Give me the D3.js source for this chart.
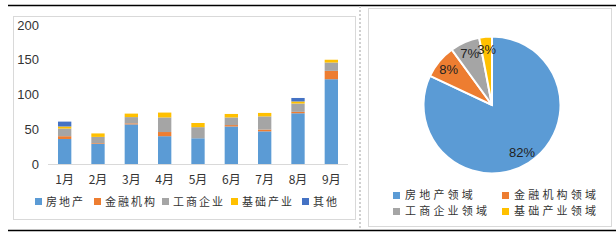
<!DOCTYPE html>
<html>
<head>
<meta charset="utf-8">
<script src="https://cdn.jsdelivr.net/npm/d3@7"></script>
<style>
  body { margin: 0; background: #fff; }
  svg { display: block; }
</style>
</head>
<body>
<script>
// bar chart data (monthly, stacked)
var months = ["1月", "2月", "3月", "4月", "5月", "6月", "7月", "8月", "9月"];
var barSeries = ["房地产", "金融机构", "工商企业", "基础产业", "其他"];
var realEstate = [36, 29, 57, 40, 37, 54, 47, 73, 122];
var financial = [4, 1, 1.5, 6, 0, 2, 2.5, 2, 12];
var industrial = [11, 9, 9, 21, 16, 11, 19, 12, 12];
var infrastructure = [3, 5, 5, 7, 6, 5, 5, 3, 4];
var others = [7, 0, 0, 0, 0, 0, 0, 5, 0];
var yTicks = [0, 50, 100, 150, 200];

// pie data
var pieLabels = ["房地产领域", "金融机构领域", "工商企业领域", "基础产业领域"];
var pieValues = [82, 8, 7, 3];

var colors = ["#5b9bd5", "#ed7d31", "#a5a5a5", "#ffc000", "#4472c4"];
var cjk = "'Noto Sans CJK SC', sans-serif";

var svg = d3.select("body").append("svg")
  .attr("width", 616)
  .attr("height", 240);

// page rules and panel frames
svg.append("line").attr("x1", 8).attr("x2", 616).attr("y1", 5.5).attr("y2", 5.5)
  .attr("stroke", "#000").attr("stroke-width", 1.5);
svg.append("line").attr("x1", 8).attr("x2", 616).attr("y1", 230.5).attr("y2", 230.5)
  .attr("stroke", "#000").attr("stroke-width", 1.5);
svg.append("line").attr("x1", 360).attr("x2", 360).attr("y1", 6).attr("y2", 229)
  .attr("stroke", "#d0d0d0").attr("stroke-width", 2).attr("stroke-dasharray", "2,2");
svg.append("rect").attr("x", 13.5).attr("y", 16.5).attr("width", 342).attr("height", 203)
  .attr("fill", "none").attr("stroke", "#d9d9d9");
svg.append("rect").attr("x", 368.5).attr("y", 8.5).attr("width", 243).attr("height", 218)
  .attr("fill", "none").attr("stroke", "#d9d9d9");

// ---- stacked bar chart ----
var x = d3.scaleBand().domain(months).range([48, 348]).paddingInner(0.6).paddingOuter(0.3);
var y = d3.scaleLinear().domain([0, 200]).range([164, 25]);

var rows = months.map(function(m, i) {
  return { month: m, "房地产": realEstate[i], "金融机构": financial[i], "工商企业": industrial[i],
           "基础产业": infrastructure[i], "其他": others[i] };
});
var stacked = d3.stack().keys(barSeries)(rows);

var yAxis = d3.axisLeft(y).tickValues(yTicks).tickSize(0).tickPadding(0);
svg.append("g")
  .attr("class", "y axis")
  .attr("transform", "translate(39,0)")
  .call(yAxis)
  .call(function(g) { g.select(".domain").remove(); })
  .selectAll("text")
    .attr("font-family", "Arial, 'Liberation Sans', sans-serif")
    .attr("font-size", 13)
    .attr("fill", "#333");

svg.selectAll("g.series")
  .data(stacked)
  .enter().append("g")
    .attr("class", "series")
    .attr("fill", function(d, i) { return colors[i]; })
  .selectAll("rect")
  .data(function(d) { return d; })
  .enter().append("rect")
    .attr("x", function(d) { return x(d.data.month); })
    .attr("width", x.bandwidth())
    .attr("y", function(d) { return y(d[1]); })
    .attr("height", function(d) { return y(d[0]) - y(d[1]); });

var xAxis = d3.axisBottom(x).tickSize(0).tickPadding(11);
svg.append("g")
  .attr("class", "x axis")
  .attr("transform", "translate(0,164)")
  .call(xAxis)
  .call(function(g) { g.select(".domain").attr("stroke", "#d9d9d9").attr("d", "M48,0.5H348"); })
  .selectAll("text")
    .attr("font-family", cjk)
    .attr("font-size", 12)
    .attr("fill", "#333");

// bar legend
var barLegendX = [35, 94, 162, 231, 302];
var barLegend = svg.append("g").attr("class", "legend");
barSeries.forEach(function(name, i) {
  barLegend.append("rect")
    .attr("x", barLegendX[i]).attr("y", 198)
    .attr("width", 7).attr("height", 7)
    .attr("fill", colors[i]);
  barLegend.append("text")
    .attr("x", barLegendX[i] + 11).attr("y", 206)
    .attr("font-family", cjk).attr("font-size", 11)
    .attr("letter-spacing", 2)
    .attr("fill", "#333")
    .text(name);
});

// ---- pie chart ----
var cx = 492, cy = 105, r = 68.5;
var pie = d3.pie().sort(null).value(function(d) { return d; });
var arc = d3.arc().innerRadius(0).outerRadius(r);
var labelArc = d3.arc().innerRadius(r * 0.82).outerRadius(r * 0.82);

var pg = svg.append("g").attr("transform", "translate(" + cx + "," + cy + ")");
var slices = pie(pieValues);
pg.selectAll("path")
  .data(slices)
  .enter().append("path")
    .attr("d", arc)
    .attr("fill", function(d, i) { return colors[i]; })
    .attr("stroke", "#fff")
    .attr("stroke-width", 2);

pg.selectAll("text")
  .data(slices)
  .enter().append("text")
    .attr("transform", function(d) { return "translate(" + labelArc.centroid(d) + ")"; })
    .attr("text-anchor", "middle")
    .attr("dy", "0.35em")
    .attr("font-family", "Arial, 'Liberation Sans', sans-serif")
    .attr("font-size", 13)
    .attr("fill", "#222")
    .text(function(d) { return d.value + "%"; });

// pie legend
var pieLegendPos = [[396, 195], [505, 195], [396, 211], [505, 211]];
var pl = svg.append("g").attr("class", "legend");
pieLabels.forEach(function(name, i) {
  pl.append("rect")
    .attr("x", pieLegendPos[i][0] - 3).attr("y", pieLegendPos[i][1] - 3)
    .attr("width", 7).attr("height", 7)
    .attr("fill", colors[i]);
  pl.append("text")
    .attr("x", pieLegendPos[i][0] + 9).attr("y", pieLegendPos[i][1] + 4)
    .attr("font-family", cjk).attr("font-size", 11)
    .attr("letter-spacing", 3.2)
    .attr("fill", "#333")
    .text(name);
});
</script>
</body>
</html>
